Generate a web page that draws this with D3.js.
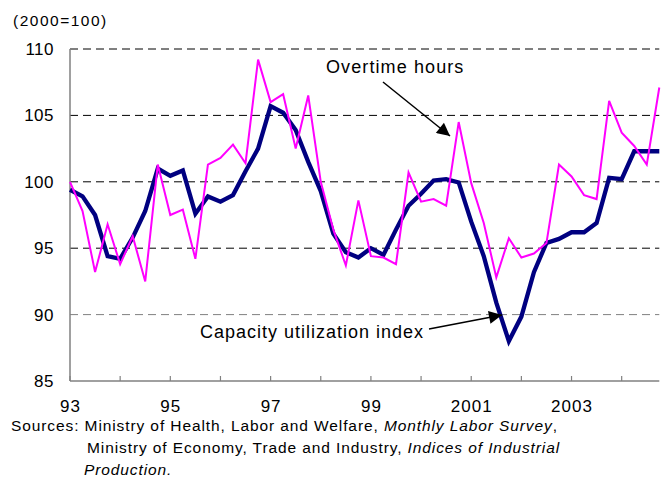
<!DOCTYPE html>
<html>
<head>
<meta charset="utf-8">
<script src="https://cdn.jsdelivr.net/npm/d3@7"></script>
<style>
  body { margin: 0; background: #fff; }
  text { font-family: "Liberation Sans", Arial, sans-serif; fill: #000; }
</style>
</head>
<body>
<div id="vis-svg"></div>
<script>
var w = 668;
var h = 477;

// quarterly data, 1993 Q1 .. 2004 Q4
var startYear = 1993;
var capacityIndex = [99.4, 98.9, 97.5, 94.4, 94.2, 95.8, 97.8, 101.0, 100.45, 100.85, 97.6, 98.9,
                     98.5, 99.0, 100.8, 102.5, 105.7, 105.2, 103.9, 101.5, 99.3, 96.1, 94.7, 94.3,
                     95.0, 94.5, 96.4, 98.2, 99.1, 100.1, 100.2, 99.95, 97.0, 94.4, 90.9, 88.0,
                     89.85, 93.2, 95.4, 95.7, 96.2, 96.2, 96.9, 100.3, 100.2, 102.3, 102.3, 102.3];
var overtimeHours = [100.0, 97.8, 93.2, 96.8, 93.8, 95.9, 92.5, 101.3, 97.5, 97.9, 94.2, 101.3,
                     101.8, 102.8, 101.4, 109.2, 106.0, 106.6, 102.5, 106.5, 100.0, 96.4, 93.7, 98.6,
                     94.4, 94.3, 93.8, 100.7, 98.5, 98.7, 98.2, 104.5, 99.9, 96.9, 92.8, 95.75,
                     94.3, 94.6, 95.4, 101.3, 100.4, 99.0, 98.7, 106.1, 103.7, 102.7, 101.3, 107.1];
var yTicks = [85, 90, 95, 100, 105, 110];
var xTickYears = [1993, 1994, 1995, 1996, 1997, 1998, 1999, 2000, 2001, 2002, 2003, 2004];
var xLabels = {1993: "93", 1995: "95", 1997: "97", 1999: "99", 2001: "2001", 2003: "2003"};

var plotLeft = 70, plotRight = 659.3, plotTop = 49, plotBottom = 381;

var canvas = d3.select("#vis-svg").append("svg")
    .attr("width", w)
    .attr("height", h);

var x = d3.scaleLinear().domain([1993, 2004.75]).range([plotLeft, plotRight]);
var y = d3.scaleLinear().domain([85, 110]).range([plotBottom, plotTop]);

function qx(d, i) { return x(startYear + i / 4); }

// dashed gridlines
canvas.selectAll(".grid")
    .data(yTicks.filter(d => d > 85))
    .enter().append("line")
    .attr("x1", plotLeft).attr("x2", plotRight)
    .attr("y1", d => y(d)).attr("y2", d => y(d))
    .attr("stroke", d => d == 90 ? "#808080" : "#000")
    .attr("stroke-width", 1)
    .attr("stroke-dasharray", "8,5");

// axes
canvas.append("line")
    .attr("x1", plotLeft).attr("x2", plotLeft).attr("y1", plotTop).attr("y2", plotBottom)
    .attr("stroke", "#808080").attr("stroke-width", 1.5);
canvas.append("line")
    .attr("x1", plotLeft).attr("x2", plotRight).attr("y1", plotBottom).attr("y2", plotBottom)
    .attr("stroke", "#808080").attr("stroke-width", 1.5);

canvas.selectAll(".xtick")
    .data(xTickYears)
    .enter().append("line")
    .attr("x1", d => x(d)).attr("x2", d => x(d))
    .attr("y1", plotBottom).attr("y2", plotBottom - 5)
    .attr("stroke", "#808080").attr("stroke-width", 1.2);

canvas.selectAll(".xlab")
    .data(xTickYears.filter(d => xLabels[d]))
    .enter().append("text")
    .attr("x", d => x(d) + 0.5).attr("y", 412)
    .attr("text-anchor", "middle")
    .style("font-size", "17px")
    .style("letter-spacing", "1px")
    .text(d => xLabels[d]);

canvas.selectAll(".ylab")
    .data(yTicks)
    .enter().append("text")
    .attr("x", 54).attr("y", d => y(d) + 6)
    .attr("text-anchor", "end")
    .style("font-size", "17px")
    .style("letter-spacing", "0.5px")
    .text(d => d);

canvas.append("text")
    .attr("x", 13).attr("y", 26)
    .style("font-size", "15.5px")
    .style("letter-spacing", "1.5px")
    .text("(2000=100)");

// series
var line = d3.line().x(qx).y(d => y(d));

canvas.append("path")
    .attr("d", line(capacityIndex))
    .attr("fill", "none")
    .attr("stroke", "#000080")
    .attr("stroke-width", 4.3);

canvas.append("path")
    .attr("d", line(overtimeHours))
    .attr("fill", "none")
    .attr("stroke", "#ff00ff")
    .attr("stroke-width", 2);

// annotations
canvas.append("defs").append("marker")
    .attr("id", "arrow")
    .attr("viewBox", "0 0 10 10")
    .attr("refX", 10).attr("refY", 5)
    .attr("markerWidth", 17).attr("markerHeight", 13)
    .attr("markerUnits", "userSpaceOnUse")
    .attr("orient", "auto")
    .append("path")
    .attr("d", "M0,0 L10,5 L0,10 Z")
    .attr("fill", "#000");

canvas.append("text")
    .attr("x", 326).attr("y", 73)
    .style("font-size", "18px")
    .style("letter-spacing", "1.1px")
    .text("Overtime hours");
canvas.append("line")
    .attr("x1", 383).attr("y1", 82).attr("x2", 450).attr("y2", 136)
    .attr("stroke", "#000").attr("stroke-width", 1.5)
    .attr("marker-end", "url(#arrow)");

canvas.append("text")
    .attr("x", 200).attr("y", 338)
    .style("font-size", "18px")
    .style("letter-spacing", "1px")
    .text("Capacity utilization index");
canvas.append("line")
    .attr("x1", 429).attr("y1", 329).attr("x2", 502).attr("y2", 315)
    .attr("stroke", "#000").attr("stroke-width", 1.5)
    .attr("marker-end", "url(#arrow)");

// sources
var src = canvas.append("g").style("font-size", "15.5px").style("letter-spacing", "0.9px");
var t1 = src.append("text").attr("x", 11).attr("y", 431);
t1.append("tspan").text("Sources: Ministry of Health, Labor and Welfare, ");
t1.append("tspan").style("font-style", "italic").text("Monthly Labor Survey");
t1.append("tspan").text(",");
var t2 = src.append("text").attr("x", 87).attr("y", 453);
t2.append("tspan").text("Ministry of Economy, Trade and Industry, ");
t2.append("tspan").style("font-style", "italic").text("Indices of Industrial");
src.append("text").attr("x", 84).attr("y", 475)
    .style("font-style", "italic").text("Production.");
</script>
</body>
</html>
